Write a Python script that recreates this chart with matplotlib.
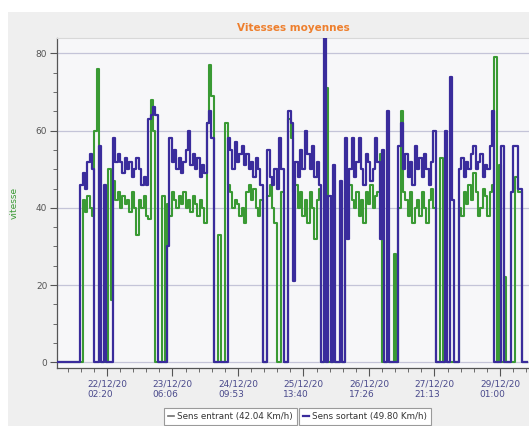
import matplotlib
matplotlib.use('Agg')
import matplotlib.pyplot as plt
import matplotlib.dates as mdates
import pandas as pd
from matplotlib.lines import Line2D
from matplotlib.patches import Rectangle
from matplotlib.ticker import MultipleLocator, FixedLocator

# vitesses relevees (km/h), un point toutes les ~60 min a partir du 21/12 05:08
sortant = [
    0, 0, 0, 0, 0, 0, 0, 0, 0, 0,
    46, 49, 45, 52, 54, 50, 0, 0, 56, 0,
    46, 0, 0, 0, 58, 52, 54, 52, 49, 53,
    50, 52, 48, 50, 53, 50, 46, 48, 46, 63,
    64, 66, 64, 0, 0, 0, 0, 30, 58, 52,
    55, 50, 53, 49, 52, 55, 60, 51, 54, 50,
    53, 48, 51, 49, 62, 65, 58, 0, 0, 0,
    0, 0, 0, 58, 55, 50, 57, 52, 54, 56,
    51, 54, 50, 52, 48, 53, 50, 46, 0, 0,
    55, 48, 46, 50, 45, 58, 50, 0, 0, 65,
    62, 21, 52, 48, 55, 50, 60, 54, 50, 56,
    48, 52, 46, 0, 84, 0, 43, 0, 51, 0,
    0, 47, 0, 58, 32, 50, 58, 48, 52, 58,
    50, 46, 54, 52, 47, 50, 58, 52, 32, 55,
    0, 65, 0, 0, 0, 0, 56, 62, 50, 54,
    48, 52, 46, 56, 50, 53, 48, 54, 50, 46,
    52, 60, 0, 0, 0, 0, 60, 0, 74, 42,
    0, 0, 50, 53, 48, 52, 50, 54, 56, 50,
    52, 54, 48, 51, 50, 56, 65, 0, 0, 0,
    56, 0, 0, 0, 44, 56, 56, 45, 45, 0,
    0, 0,
]

entrant = [
    0, 0, 0, 0, 0, 0, 0, 0, 0, 0,
    0, 42, 39, 43, 40, 38, 60, 76, 0, 0,
    0, 0, 50, 16, 47, 42, 44, 40, 43, 41,
    42, 39, 44, 40, 33, 42, 40, 43, 38, 37,
    68, 60, 0, 0, 0, 43, 0, 41, 38, 44,
    42, 40, 43, 41, 44, 40, 42, 39, 43, 41,
    38, 42, 40, 36, 62, 77, 69, 0, 0, 33,
    0, 0, 62, 46, 44, 40, 42, 41, 38, 40,
    36, 44, 46, 42, 45, 40, 38, 42, 0, 0,
    43, 46, 40, 36, 0, 0, 44, 0, 0, 63,
    58, 44, 46, 40, 44, 38, 42, 36, 44, 40,
    32, 42, 45, 0, 0, 71, 0, 0, 0, 0,
    0, 0, 0, 44, 38, 46, 42, 40, 44, 38,
    42, 36, 44, 41, 46, 40, 43, 44, 54, 0,
    0, 0, 0, 0, 28, 0, 40, 65, 44, 42,
    38, 44, 36, 40, 42, 38, 44, 40, 36, 42,
    45, 40, 0, 0, 53, 0, 0, 0, 0, 0,
    0, 0, 40, 38, 44, 41, 46, 42, 49, 44,
    38, 40, 45, 43, 38, 44, 46, 79, 0, 51,
    0, 22, 0, 0, 0, 0, 48, 44, 44, 0,
    0, 0,
]

moy_entrant = 42.04
moy_sortant = 49.80

debut = pd.Timestamp('2020-12-21 05:08')
pas = pd.Timedelta(minutes=59.5)
t_sortant = [debut + i * pas for i in range(len(sortant))]
t_entrant = [debut + i * pas for i in range(len(entrant))]

# graduations : toutes les 27h46m40s a partir du 22/12 02:20
premier_tick = pd.Timestamp('2020-12-22 02:20')
intervalle = pd.Timedelta(hours=27, minutes=46, seconds=40)
ticks = [premier_tick + k * intervalle for k in range(7)]
minor_ticks = [premier_tick + k * intervalle / 5 for k in range(-5, 40)]

bleu = '#3a2c9c'
vert = '#3a9a34'

fig = plt.figure(figsize=(5.29, 4.26), dpi=100)
fig.patch.set_facecolor('white')
fond = Rectangle((8 / 529, 0), 1, 1 - 12 / 426, transform=fig.transFigure,
                 facecolor='#efefef', edgecolor='none', zorder=-10)
fig.patches.append(fond)

ax = fig.add_axes([57 / 529, 58 / 426, 472 / 529, 330 / 426])
ax.set_zorder(1)
ax.set_facecolor('#f7f7f9')

ax.step(t_sortant, sortant, where='post', color=bleu, lw=1.6, zorder=3)
ax.step(t_entrant, entrant, where='post', color=vert, lw=1.5, zorder=2)

ax.set_xlim(debut, debut + pd.Timedelta(hours=200.2))
ax.set_ylim(-1.5, 84)

ax.xaxis.set_major_locator(FixedLocator(mdates.date2num(ticks)))
ax.xaxis.set_minor_locator(FixedLocator(mdates.date2num(minor_ticks)))
ax.xaxis.set_major_formatter(mdates.DateFormatter('%d/%m/%y\n%H:%M'))
ax.yaxis.set_major_locator(MultipleLocator(20))
ax.yaxis.set_minor_locator(MultipleLocator(5))

ax.tick_params(axis='x', which='major', length=6, color='#555555', labelsize=6.5,
               labelcolor='#4a4a8c', pad=2)
ax.tick_params(axis='x', which='minor', length=3, color='#555555')
ax.tick_params(axis='y', which='major', length=5, color='#555555', labelsize=6.5,
               labelcolor='#555555', pad=2)
ax.tick_params(axis='y', which='minor', length=3, color='#555555')
for lab in ax.get_xticklabels():
    lab.set_multialignment('left')

ax.grid(axis='y', which='major', color='#c4c4d8', lw=0.9, zorder=1)
for s in ['left', 'bottom']:
    ax.spines[s].set_color('#555555')
    ax.spines[s].set_linewidth(0.9)
ax.spines['top'].set_color('#d8d8d8')
ax.spines['right'].set_visible(False)

ax.set_title('Vitesses moyennes', color='#ee7f2d', fontsize=7.5, fontweight='bold', pad=5)
ax.set_ylabel('vitesse', color=vert, fontsize=6.5, labelpad=12)

h1 = Line2D([], [], color='#707070', lw=1.2)
h2 = Line2D([], [], color=bleu, lw=1.6)
leg_style = dict(fontsize=6.3, handlelength=0.6, handletextpad=0.4, frameon=True,
                 fancybox=False, edgecolor='#9a9a9a', facecolor='white', framealpha=1,
                 borderpad=0.45, loc='upper left', labelcolor='#333333')
l1 = fig.legend([h1], [f'Sens entrant ({moy_entrant:.2f} Km/h)'],
                bbox_to_anchor=(160 / 529, 1 - 404 / 426), **leg_style)
l1.get_frame().set_linewidth(0.8)
l2 = fig.legend([h2], [f'Sens sortant ({moy_sortant:.2f} Km/h)'],
                bbox_to_anchor=(295 / 529, 1 - 404 / 426), **leg_style)
l2.get_frame().set_linewidth(0.8)

fig.savefig('out.png', dpi=100)
